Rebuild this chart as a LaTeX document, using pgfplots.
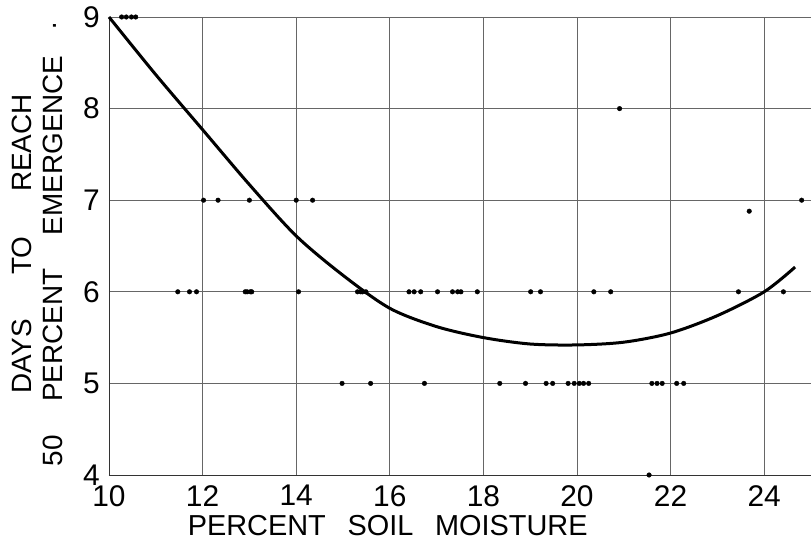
\documentclass[border=0pt]{standalone}
\usepackage{fontspec}
\setmainfont{Liberation Sans}
\usepackage{pgfplots}
\pgfplotsset{compat=1.18}

% observed emergence times, one table per day value
\pgfplotstableread{
x y
10.27 9
10.37 9
10.48 9
10.57 9
20.91 8
12.02 7
12.33 7
13.00 7
14.00 7
14.35 7
24.80 7
23.68 6.88
11.47 6
11.72 6
11.87 6
12.91 6
12.95 6
13.02 6
13.05 6
14.05 6
15.31 6
15.38 6
15.42 6
15.49 6
16.41 6
16.52 6
16.66 6
17.02 6
17.34 6
17.45 6
17.52 6
17.87 6
19.01 6
19.22 6
20.36 6
20.72 6
23.45 6
24.41 6
14.98 5
15.59 5
16.74 5
18.35 5
18.90 5
19.34 5
19.48 5
19.81 5
19.94 5
20.05 5
20.14 5
20.25 5
21.60 5
21.71 5
21.82 5
22.13 5
22.28 5
21.54 4
}\obs

\begin{document}
\begin{tikzpicture}
\begin{axis}[
  scale only axis,
  width=702bp, height=458bp,
  xmin=10, xmax=25,
  ymin=4, ymax=9,
  xtick={10,12,...,24},
  ytick={4,5,...,9},
  axis x line*=bottom,
  axis y line*=left,
  axis line style={black!80, line width=0.9bp},
  grid=major,
  major grid style={black!60, line width=0.9bp},
  major tick length=0pt,
  clip=false,
  /pgf/number format/assume math mode=true,
  ticklabel style={font=\fontsize{30}{32}\selectfont, inner sep=0pt},
  xticklabel style={yshift=-10bp},
  yticklabel style={xshift=-9bp},
  xlabel={PERCENT\hspace{0.75em}SOIL\hspace{0.75em}MOISTURE},
  xlabel style={font=\fontsize{29}{31}\selectfont, inner sep=0pt,
    at={(rel axis cs:0.397,0)}, anchor=north, yshift=-40bp},
  ylabel={DAYS\hspace{1.6em}TO\hspace{1.6em}REACH\\50\hspace{1.2em}PERCENT\hspace{1.2em}EMERGENCE\hspace{0.9em}·},
  ylabel style={font=\fontsize{28}{31}\selectfont, align=center, inner sep=0pt,
    at={(rel axis cs:0,0.505)}, anchor=south, yshift=46bp},
]
\addplot[only marks, mark=*, mark size=2.3bp, black] table {\obs};
\addplot[smooth, tension=0.5, black, line width=3bp] coordinates {
  (10,9.00) (11,8.37) (12,7.77) (13,7.17) (14,6.61) (15,6.18)
  (16,5.82) (17,5.62) (18,5.50) (19,5.43) (20,5.42) (21,5.45)
  (22,5.55) (23,5.74) (24,6.00) (24.66,6.27)
};
\coordinate (bl) at (rel axis cs:0,0);
\coordinate (tr) at (rel axis cs:1,1);
\end{axis}
\pgfresetboundingbox
\path ([xshift=-109bp,yshift=-72bp]bl) rectangle ([yshift=17bp]tr);
\end{tikzpicture}
\end{document}
